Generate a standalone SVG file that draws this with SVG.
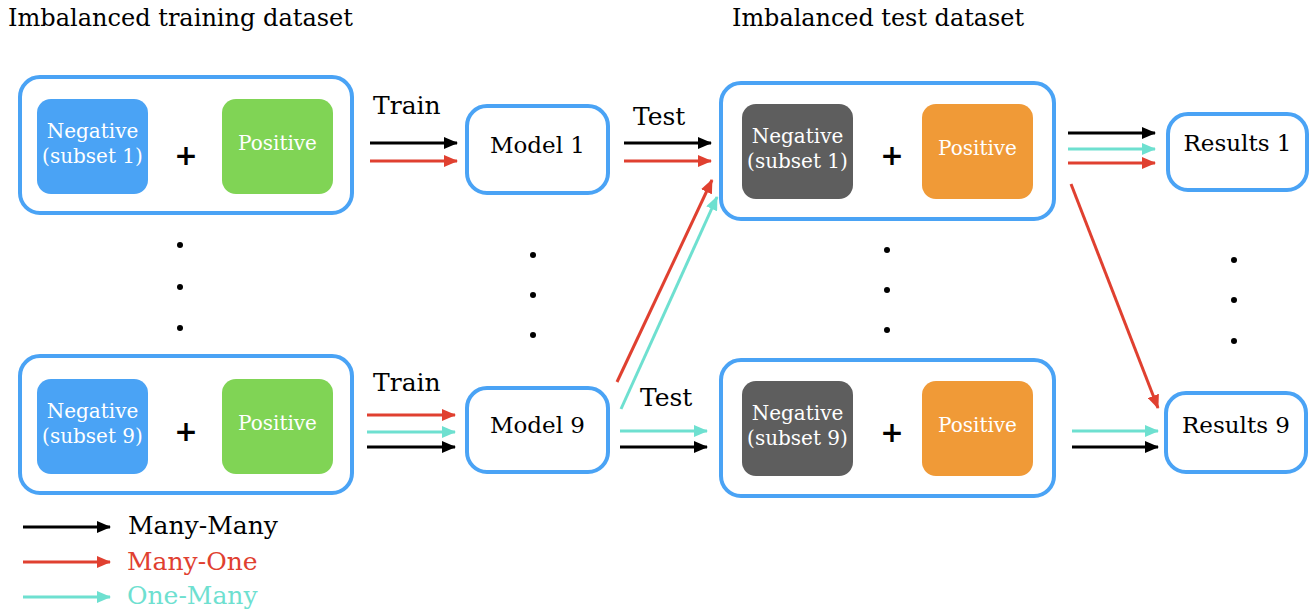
<svg xmlns="http://www.w3.org/2000/svg" width="1309" height="613" viewBox="0 0 1309 613">
  <style>
    text { font-family: "DejaVu Serif", "Liberation Serif", serif; }
    .title { font-size: 24px; fill: #000; }
    .frame { fill: #fff; stroke: #4aa3f5; stroke-width: 4; }
    .neg { fill: #4aa3f5; }
    .negtest { fill: #5e5e5e; }
    .pos { fill: #80d455; }
    .postest { fill: #f09a37; }
    .inner { font-size: 20px; fill: #fff; text-anchor: middle; }
    .plus { font-family: "DejaVu Sans", "Liberation Sans", sans-serif; font-size: 28px; font-weight: bold; fill: #000; text-anchor: middle; }
    .label { font-size: 23px; fill: #000; text-anchor: middle; }
    .step { font-size: 25px; fill: #000; }
    .dot { fill: #000; }
    .k { stroke: #000; stroke-width: 3; fill: none; marker-end: url(#ak); }
    .r { stroke: #e04030; stroke-width: 3; fill: none; marker-end: url(#ar); }
    .c { stroke: #6ee0d0; stroke-width: 3; fill: none; marker-end: url(#ac); }
    .legend { font-size: 25px; }
  </style>
  <defs>
    <marker id="ak" markerUnits="userSpaceOnUse" markerWidth="14" markerHeight="12" refX="13" refY="6" orient="auto">
      <path d="M0,0 L14,6 L0,12 Z" fill="#000"/>
    </marker>
    <marker id="ar" markerUnits="userSpaceOnUse" markerWidth="14" markerHeight="12" refX="13" refY="6" orient="auto">
      <path d="M0,0 L14,6 L0,12 Z" fill="#e04030"/>
    </marker>
    <marker id="ac" markerUnits="userSpaceOnUse" markerWidth="14" markerHeight="12" refX="13" refY="6" orient="auto">
      <path d="M0,0 L14,6 L0,12 Z" fill="#6ee0d0"/>
    </marker>
  </defs>

  <text class="title" x="8" y="26" textLength="345" lengthAdjust="spacingAndGlyphs">Imbalanced training dataset</text>
  <text class="title" x="732" y="26" textLength="292" lengthAdjust="spacingAndGlyphs">Imbalanced test dataset</text>

  <!-- training sets -->
  <g id="train1">
    <rect class="frame" x="20" y="77" width="332" height="136" rx="20"/>
    <rect class="neg" x="37" y="99" width="111" height="95" rx="14"/>
    <text class="inner" x="92.5" y="138">Negative</text>
    <text class="inner" x="92.5" y="163">(subset 1)</text>
    <text class="plus" x="186" y="165">+</text>
    <rect class="pos" x="222" y="99" width="111" height="95" rx="14"/>
    <text class="inner" x="277.5" y="150">Positive</text>
  </g>
  <g id="train9">
    <rect class="frame" x="20" y="356" width="332" height="137" rx="20"/>
    <rect class="neg" x="37" y="379" width="111" height="95" rx="14"/>
    <text class="inner" x="92.5" y="418">Negative</text>
    <text class="inner" x="92.5" y="443">(subset 9)</text>
    <text class="plus" x="186" y="441">+</text>
    <rect class="pos" x="222" y="379" width="111" height="95" rx="14"/>
    <text class="inner" x="277.5" y="430">Positive</text>
  </g>
  <g id="dots-train">
    <circle class="dot" cx="180" cy="245" r="3"/>
    <circle class="dot" cx="180" cy="287" r="3"/>
    <circle class="dot" cx="180" cy="328" r="3"/>
  </g>

  <!-- models -->
  <g id="model1">
    <rect class="frame" x="467" y="106" width="141" height="87" rx="20"/>
    <text class="label" x="537.5" y="153">Model 1</text>
  </g>
  <g id="model9">
    <rect class="frame" x="467" y="388" width="141" height="84" rx="20"/>
    <text class="label" x="537.5" y="433">Model 9</text>
  </g>
  <g id="dots-model">
    <circle class="dot" cx="533" cy="255" r="3"/>
    <circle class="dot" cx="533" cy="295" r="3"/>
    <circle class="dot" cx="533" cy="335" r="3"/>
  </g>

  <!-- test sets -->
  <g id="test1">
    <rect class="frame" x="721" y="83" width="333" height="136" rx="20"/>
    <rect class="negtest" x="742" y="104" width="111" height="95" rx="14"/>
    <text class="inner" x="797.5" y="143">Negative</text>
    <text class="inner" x="797.5" y="168">(subset 1)</text>
    <text class="plus" x="892" y="165">+</text>
    <rect class="postest" x="922" y="104" width="111" height="95" rx="14"/>
    <text class="inner" x="977.5" y="155">Positive</text>
  </g>
  <g id="test9">
    <rect class="frame" x="721" y="360" width="333" height="136" rx="20"/>
    <rect class="negtest" x="742" y="381" width="111" height="95" rx="14"/>
    <text class="inner" x="797.5" y="420">Negative</text>
    <text class="inner" x="797.5" y="445">(subset 9)</text>
    <text class="plus" x="892" y="442">+</text>
    <rect class="postest" x="922" y="381" width="111" height="95" rx="14"/>
    <text class="inner" x="977.5" y="432">Positive</text>
  </g>
  <g id="dots-test">
    <circle class="dot" cx="887" cy="250" r="3"/>
    <circle class="dot" cx="887" cy="290" r="3"/>
    <circle class="dot" cx="887" cy="330" r="3"/>
  </g>

  <!-- results -->
  <g id="results1">
    <rect class="frame" x="1168" y="114" width="139" height="76" rx="20"/>
    <text class="label" x="1237.5" y="151">Results 1</text>
  </g>
  <g id="results9">
    <rect class="frame" x="1166" y="393" width="140" height="79" rx="20"/>
    <text class="label" x="1236" y="433">Results 9</text>
  </g>
  <g id="dots-results">
    <circle class="dot" cx="1234" cy="260" r="3"/>
    <circle class="dot" cx="1234" cy="300" r="3"/>
    <circle class="dot" cx="1234" cy="341" r="3"/>
  </g>

  <!-- step labels -->
  <text class="step" x="373" y="114">Train</text>
  <text class="step" x="373" y="391">Train</text>
  <text class="step" x="633" y="125">Test</text>
  <text class="step" x="640" y="406">Test</text>

  <!-- connectors -->
  <g id="connectors">
    <path class="k" d="M370,143 H457"/>
    <path class="r" d="M370,161 H457"/>
    <path class="r" d="M367,415 H455"/>
    <path class="c" d="M367,432 H455"/>
    <path class="k" d="M367,447 H455"/>
    <path class="k" d="M624,143 H711"/>
    <path class="r" d="M624,161 H711"/>
    <path class="r" d="M617,382 L712,180"/>
    <path class="c" d="M621,409 L717,197"/>
    <path class="c" d="M620,431 H707"/>
    <path class="k" d="M620,447 H707"/>
    <path class="k" d="M1068,133 H1155"/>
    <path class="c" d="M1068,149 H1155"/>
    <path class="r" d="M1068,163 H1155"/>
    <path class="r" d="M1071,184 L1158,408"/>
    <path class="c" d="M1072,431 H1158"/>
    <path class="k" d="M1072,447 H1158"/>
  </g>

  <!-- legend -->
  <g id="legend">
    <path class="k" d="M23,527 H110"/>
    <text class="legend" x="128" y="534" fill="#000">Many-Many</text>
    <path class="r" d="M23,562 H110"/>
    <text class="legend" x="127" y="570" fill="#e04030">Many-One</text>
    <path class="c" d="M23,597 H110"/>
    <text class="legend" x="127" y="604" fill="#6ee0d0">One-Many</text>
  </g>
</svg>
